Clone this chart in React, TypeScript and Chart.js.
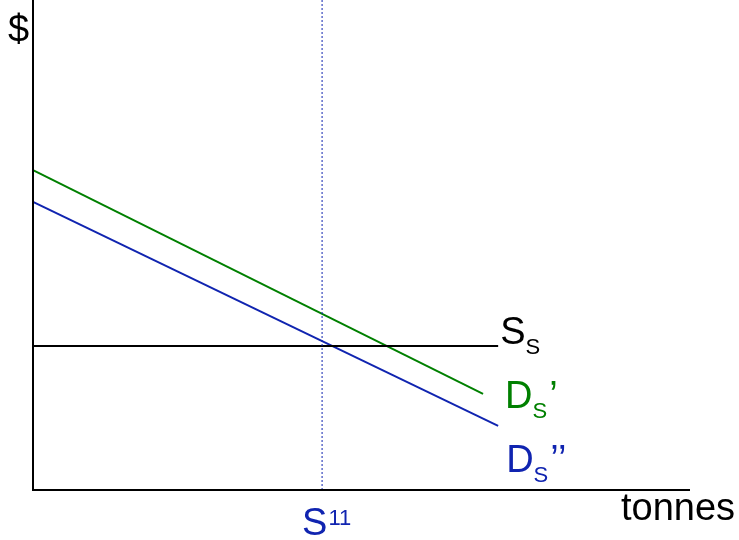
import React, { useEffect, useRef } from "react";
import { Chart, registerables } from "chart.js";

Chart.register(...registerables);

// Data (x: quantity units 0..100, y: price units 0..100)
const supplyX = [0, 70.8];
const supplyY = [29.4, 29.4];
const demand1X = [0, 68.5];
const demand1Y = [65.3, 19.6];
const demand2X = [0, 70.8];
const demand2Y = [58.8, 13.1];
const s11X = [44.0, 44.0];
const s11Y = [0, 100];

const yAxisLabel = "$";
const xAxisLabel = "tonnes";
const supplyLabel = ["S", "S", ""];
const demand1Label = ["D", "S", "\u2019"];
const demand2Label = ["D", "S", "\u2019\u2019"];
const s11Label = ["S", "11"];

const GREEN = "#008000";
const BLUE = "#1024b0";
const BLACK = "#000000";
const FONT = "'Liberation Sans', Arial, sans-serif";

const pts = (xs: number[], ys: number[]) => xs.map((x, i) => ({ x, y: ys[i] }));

export default function App() {
  const ref = useRef<HTMLCanvasElement | null>(null);
  useEffect(() => {
    if (!ref.current) return;
    const overlay = {
      id: "overlay",
      afterDatasetsDraw(chart: any) {
        const { ctx, chartArea } = chart;
        const xs = chart.scales.x;
        const ys = chart.scales.y;
        ctx.save();
        // axes
        ctx.strokeStyle = BLACK;
        ctx.lineWidth = 2;
        ctx.beginPath();
        ctx.moveTo(chartArea.left, chartArea.top);
        ctx.lineTo(chartArea.left, chartArea.bottom);
        ctx.lineTo(chartArea.right, chartArea.bottom);
        ctx.stroke();
        ctx.textBaseline = "alphabetic";
        ctx.textAlign = "left";
        const big = `38px ${FONT}`;
        const small = `22px ${FONT}`;
        ctx.fillStyle = BLACK;
        ctx.font = big;
        ctx.fillText(yAxisLabel, 8, 42);
        ctx.fillText(xAxisLabel, 621, 520);
        const sub = (labels: string[], color: string, x: number, y: number) => {
          ctx.fillStyle = color;
          ctx.font = big;
          ctx.fillText(labels[0], x, y);
          const w0 = ctx.measureText(labels[0]).width;
          ctx.font = small;
          ctx.fillText(labels[1], x + w0, y + 10);
          const w1 = ctx.measureText(labels[1]).width;
          if (labels[2]) {
            ctx.font = big;
            ctx.fillText(labels[2], x + w0 + w1 + 2, y);
          }
        };
        const ex = (arr: number[]) => xs.getPixelForValue(arr[arr.length - 1]);
        const ey = (arr: number[]) => ys.getPixelForValue(arr[arr.length - 1]);
        sub(supplyLabel, BLACK, ex(supplyX) + 2, ey(supplyY) - 2);
        sub(demand1Label, GREEN, ex(demand1X) + 22, ey(demand1Y) + 14);
        sub(demand2Label, BLUE, ex(demand2X) + 8, ey(demand2Y) + 46);
        ctx.fillStyle = BLUE;
        ctx.font = big;
        const sx = xs.getPixelForValue(s11X[0]) - 20;
        ctx.fillText(s11Label[0], sx, 535);
        const ws = ctx.measureText(s11Label[0]).width;
        ctx.font = small;
        ctx.fillText(s11Label[1], sx + ws + 1, 525);
        ctx.restore();
      },
    };
    const chart = new Chart(ref.current, {
      type: "line",
      data: {
        datasets: [
          { data: pts(s11X, s11Y), borderColor: BLUE, borderWidth: 1, borderDash: [2, 2] },
          { data: pts(supplyX, supplyY), borderColor: BLACK, borderWidth: 2 },
          { data: pts(demand1X, demand1Y), borderColor: GREEN, borderWidth: 2 },
          { data: pts(demand2X, demand2Y), borderColor: BLUE, borderWidth: 2 },
        ] as any,
      },
      options: {
        animation: false,
        responsive: false,
        events: [],
        layout: { padding: { left: 33, right: 49, top: 0, bottom: 50 } },
        elements: { point: { radius: 0 }, line: { tension: 0 } },
        datasets: { line: { clip: false } } as any,
        plugins: { legend: { display: false }, tooltip: { enabled: false } },
        scales: {
          x: { type: "linear", min: 0, max: 100, display: false },
          y: { type: "linear", min: 0, max: 100, display: false },
        },
      },
      plugins: [overlay],
    });
    return () => chart.destroy();
  }, []);
  return (
    <div style={{ position: "absolute", left: 0, top: 0, width: 739, height: 540, background: "#fff" }}>
      <canvas ref={ref} width={739} height={540} />
    </div>
  );
}
